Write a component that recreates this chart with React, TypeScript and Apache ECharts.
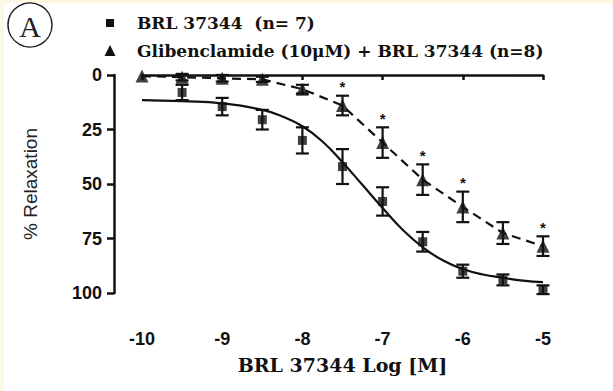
import React, { useEffect, useRef } from "react";
import * as echarts from "echarts";

// Dose (log M)
const doses = [-10, -9.5, -9, -8.5, -8, -7.5, -7, -6.5, -6, -5.5, -5];
// BRL 37344 alone (squares), from -9.5
const brlX = [-9.5, -9, -8.5, -8, -7.5, -7, -6.5, -6, -5.5, -5];
const brlMean = [8, 14.5, 20.5, 30, 42, 58, 76.5, 90, 94, 98.5];
const brlSem = [3.5, 4, 4.5, 6, 8, 6.5, 4.5, 3, 2.5, 2];
// Fitted sigmoid for BRL 37344
const fitX = [-10, -9.5, -9, -8.5, -8.25, -8, -7.75, -7.5, -7.25, -7, -6.75, -6.5, -6.25, -6, -5.75, -5.5, -5.25, -5];
const fitY = [11.5, 12, 13, 16, 19, 23.5, 30.5, 40, 50.5, 61, 71, 79, 85, 89, 91.5, 93, 94.3, 95];
// Glibenclamide + BRL 37344 (triangles)
const gliMean = [0.5, 1, 1.5, 2, 6.5, 14, 31, 48, 60.5, 72.5, 78.5];
const gliSem = [0, 1.5, 1.5, 1.2, 2, 4.5, 7, 7, 7, 5, 4.5];
// Significance marks
const starX = [-7.5, -7, -6.5, -6, -5];

const xTicks = [-10, -9, -8, -7, -6, -5];
const yTicks = [0, 25, 50, 75, 100];

const legend1 = "BRL 37344  (n= 7)";
const legend2 = "Glibenclamide (10\u03bcM) + BRL 37344 (n=8)";
const xTitle = "BRL 37344 Log [M]";
const yTitle = "% Relaxation";

export default function App() {
  const ref = useRef<HTMLDivElement>(null);
  useEffect(() => {
    document.body.style.margin = "0";
    const chart = echarts.init(ref.current!, null, { renderer: "svg" });

    const errRender = (params: any, api: any) => {
      const x = api.value(0);
      const y = api.value(1);
      const e = api.value(2);
      if (!e) return { type: "group", children: [] };
      const t = api.coord([x, y - e]);
      const b = api.coord([x, y + e]);
      const h = 6.5;
      const st = { stroke: "#111", lineWidth: 2.2 };
      return {
        type: "group",
        children: [
          { type: "line", shape: { x1: t[0], y1: t[1], x2: b[0], y2: b[1] }, style: st },
          { type: "line", shape: { x1: t[0] - h, y1: t[1], x2: t[0] + h, y2: t[1] }, style: st },
          { type: "line", shape: { x1: b[0] - h, y1: b[1], x2: b[0] + h, y2: b[1] }, style: st },
        ],
      };
    };

    const starRender = (params: any, api: any) => {
      const x = api.value(0);
      const y = api.value(1);
      const p = api.coord([x, y]);
      return {
        type: "text",
        style: {
          text: "*",
          x: p[0],
          y: p[1] - 9,
          align: "center",
          verticalAlign: "middle",
          fontSize: 15,
          fontWeight: "bold",
          fontFamily: "Liberation Sans",
          fill: "#111",
        },
      };
    };

    const starData = starX.map((sx) => {
      const i = doses.indexOf(sx);
      return [sx, gliMean[i] - gliSem[i]];
    });

    const cream = "#fcf8e4";
    chart.setOption({
      animation: false,
      backgroundColor: "#ffffff",
      graphic: [
        { type: "rect", shape: { x: 0, y: 0, width: 613, height: 3 }, style: { fill: cream } },
        { type: "rect", shape: { x: 0, y: 0, width: 4, height: 391 }, style: { fill: cream } },
        { type: "circle", shape: { cx: 30, cy: 25, r: 22 }, style: { fill: "none", stroke: "#222", lineWidth: 1.5 } },
        {
          type: "text",
          style: {
            text: "A",
            x: 30,
            y: 26,
            align: "center",
            verticalAlign: "middle",
            fontSize: 30,
            fontFamily: "Liberation Serif",
            fill: "#222",
          },
        },
        { type: "rect", shape: { x: 106, y: 19, width: 8, height: 8 }, style: { fill: "#111" } },
        {
          type: "polygon",
          shape: { points: [[110, 45], [104.5, 56], [115.5, 56]] },
          style: { fill: "#111" },
        },
        {
          type: "text",
          style: {
            text: legend1,
            x: 137,
            y: 23,
            verticalAlign: "middle",
            fontSize: 17,
            fontWeight: "bold",
            fontFamily: "DejaVu Serif",
            fill: "#111",
          },
        },
        {
          type: "text",
          style: {
            text: legend2,
            x: 137,
            y: 51,
            verticalAlign: "middle",
            fontSize: 17,
            fontWeight: "bold",
            fontFamily: "DejaVu Serif",
            fill: "#111",
          },
        },
      ],
      grid: { left: 142, top: 75, width: 401, height: 218 },
      xAxis: {
        type: "value",
        min: -10,
        max: -5,
        interval: 1,
        offset: 29,
        splitLine: { show: false },
        axisLine: { show: true, lineStyle: { color: "#111", width: 2.5 } },
        axisTick: { show: true, length: 5, lineStyle: { color: "#111", width: 2.5 } },
        axisLabel: {
          margin: 8,
          fontSize: 18,
          fontWeight: "bold",
          fontFamily: "Liberation Sans",
          color: "#111",
          formatter: (v: number) => (xTicks.includes(v) ? String(v) : ""),
        },
        name: xTitle,
        nameLocation: "middle",
        nameGap: 33,
        nameTextStyle: { fontSize: 19, fontWeight: "bold", fontFamily: "DejaVu Serif", color: "#111" },
      },
      yAxis: {
        type: "value",
        inverse: true,
        min: 0,
        max: 100,
        interval: 25,
        offset: 28,
        splitLine: { show: false },
        axisLine: { show: true, lineStyle: { color: "#111", width: 2.5 } },
        axisTick: { show: true, length: 7, lineStyle: { color: "#111", width: 2.5 } },
        axisLabel: {
          margin: 12,
          fontSize: 18,
          fontWeight: "bold",
          fontFamily: "Liberation Sans",
          color: "#111",
          formatter: (v: number) => (yTicks.includes(v) ? String(v) : ""),
        },
        name: yTitle,
        nameLocation: "middle",
        nameGap: 74,
        nameTextStyle: { fontSize: 19, fontFamily: "Liberation Sans", color: "#222" },
      },
      series: [
        {
          type: "line",
          data: fitX.map((x, i) => [x, fitY[i]]),
          smooth: true,
          showSymbol: false,
          lineStyle: { color: "#111", width: 2.2 },
          z: 2,
        },
        {
          type: "line",
          data: doses.map((x, i) => [x, gliMean[i]]),
          showSymbol: false,
          lineStyle: { color: "#111", width: 2.2, type: [9, 6] },
          z: 2,
        },
        {
          type: "custom",
          renderItem: errRender,
          data: brlX.map((x, i) => [x, brlMean[i], brlSem[i]]),
          z: 3,
        },
        {
          type: "custom",
          renderItem: errRender,
          data: doses.map((x, i) => [x, gliMean[i], gliSem[i]]),
          z: 3,
        },
        {
          name: legend1,
          type: "scatter",
          symbol: "rect",
          symbolSize: 9,
          itemStyle: { color: "#111" },
          data: brlX.map((x, i) => [x, brlMean[i]]),
          z: 4,
        },
        {
          name: legend2,
          type: "scatter",
          symbol: "triangle",
          symbolSize: 13,
          itemStyle: { color: "#111" },
          data: doses.map((x, i) => [x, gliMean[i]]),
          z: 4,
        },
        {
          type: "custom",
          renderItem: starRender,
          data: starData,
          z: 4,
        },
      ],
    });
    return () => chart.dispose();
  }, []);
  return <div ref={ref} style={{ width: 613, height: 391 }} />;
}
